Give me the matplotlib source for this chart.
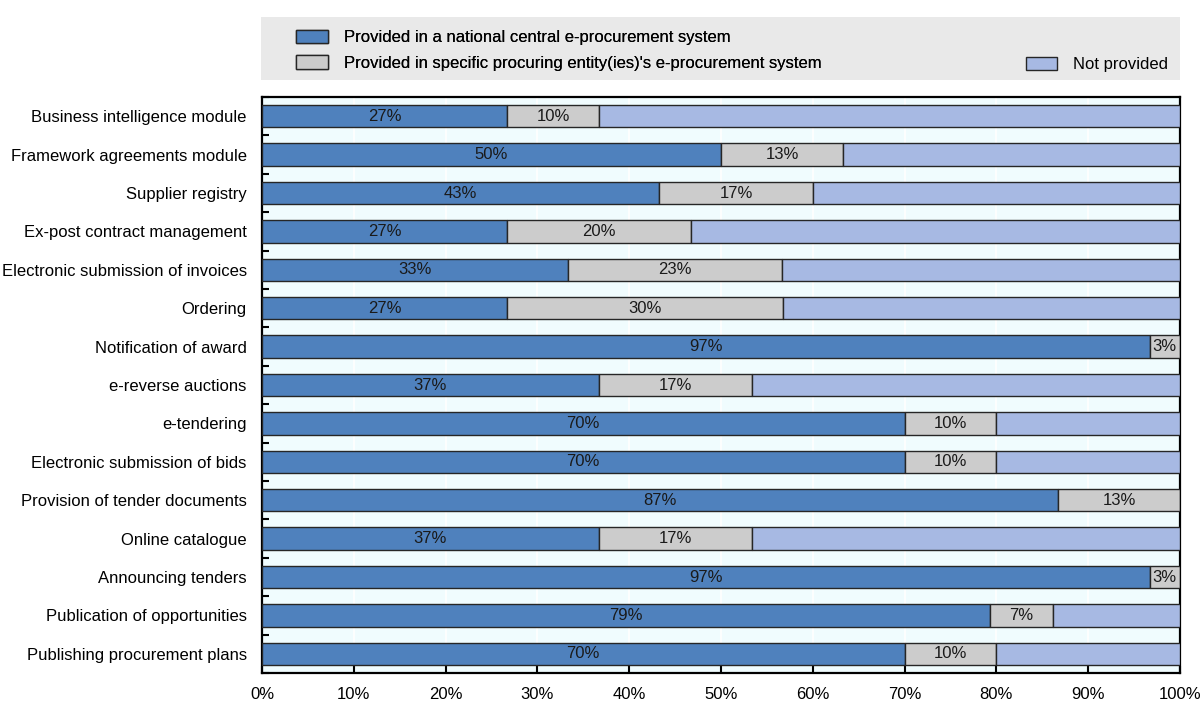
import matplotlib
matplotlib.use("Agg")
import matplotlib.pyplot as plt
from matplotlib import font_manager
from matplotlib.patches import Patch, Rectangle
import numpy as np

# Condensed sans-serif if available
_names = {f.name for f in font_manager.fontManager.ttflist}
FONT = "Liberation Sans Narrow" if "Liberation Sans Narrow" in _names else "Liberation Sans"
plt.rcParams["font.family"] = [FONT, "DejaVu Sans"]
plt.rcParams["font.size"] = 12

categories = [
    "Business intelligence module",
    "Framework agreements module",
    "Supplier registry",
    "Ex-post contract management",
    "Electronic submission of invoices",
    "Ordering",
    "Notification of award",
    "e-reverse auctions",
    "e-tendering",
    "Electronic submission of bids",
    "Provision of tender documents",
    "Online catalogue",
    "Announcing tenders",
    "Publication of opportunities",
    "Publishing procurement plans",
]

# Share of countries (%)
national = [26.7, 50.0, 43.3, 26.7, 33.3, 26.7, 96.7, 36.7, 70.0, 70.0, 86.7, 36.7, 96.7, 79.3, 70.0]
entity = [10.0, 13.3, 16.7, 20.0, 23.3, 30.0, 3.3, 16.7, 10.0, 10.0, 13.3, 16.7, 3.3, 6.9, 10.0]
not_provided = [100 - a - b for a, b in zip(national, entity)]

series_names = [
    "Provided in a national central e-procurement system",
    "Provided in specific procuring entity(ies)'s e-procurement system",
    "Not provided",
]
colors = ["#4f81bd", "#cccccc", "#a7b9e3"]
edge = "#262626"

fig = plt.figure(figsize=(12.03, 7.07), dpi=100)
W, H = 1203, 707
ax = fig.add_axes([262 / W, 1 - 673 / H, (1180 - 262) / W, (673 - 97) / H])
ax.set_facecolor("#f0fcfe")

y = np.arange(len(categories))
bh = 0.58
left = np.zeros(len(categories))
for vals, col, name, show in zip([national, entity, not_provided], colors, series_names, [True, True, False]):
    vals = np.asarray(vals)
    bars = ax.barh(y, vals, left=left, height=bh, color=col, edgecolor=edge,
                   linewidth=1.0, label=name, zorder=3)
    if show:
        for b, v in zip(bars, vals):
            if v > 0:
                ax.text(b.get_x() + b.get_width() / 2, b.get_y() + b.get_height() / 2,
                        f"{v:.0f}%", ha="center", va="center", fontsize=12,
                        color="#1a1a1a", zorder=4)
    left = left + vals

ax.set_xlim(0, 100)
ax.set_ylim(len(categories) - 0.5, -0.5)
ax.set_xticks(np.arange(0, 101, 10))
ax.set_xticklabels([f"{t}%" for t in range(0, 101, 10)])
ax.set_yticks(y)
ax.set_yticklabels(categories)
ax.set_yticks(np.arange(-0.5, len(categories)), minor=True)
ax.tick_params(axis="y", which="major", length=0, pad=11)
ax.tick_params(axis="y", which="minor", direction="in", length=5, width=1.5, color="black")
ax.tick_params(axis="x", which="major", direction="in", length=5, width=1.5, pad=10, labelsize=12)
ax.tick_params(axis="y", labelsize=12)
ax.xaxis.grid(True, color="white", linewidth=1.2, zorder=0)
ax.set_axisbelow(True)
for s in ax.spines.values():
    s.set_linewidth(1.6)
    s.set_color("black")

# Legend panel
fig.patches.append(Rectangle((261 / W, 1 - 80 / H), (1180 - 261) / W, 63 / H,
                             transform=fig.transFigure, facecolor="#e9e9e9",
                             edgecolor="none", zorder=0))
handles = [Patch(facecolor=c, edgecolor=edge, linewidth=1.0) for c in colors]
leg_kw = dict(frameon=False, fontsize=12, handlelength=1.9, handleheight=0.85,
              handletextpad=0.95, borderaxespad=0, borderpad=0)
leg1 = fig.legend(handles[:2], series_names[:2], loc="upper left",
                  bbox_to_anchor=(296 / W, 1 - 30 / H), labelspacing=0.6, **leg_kw)
leg2 = fig.legend(handles[2:], series_names[2:], loc="upper right",
                  bbox_to_anchor=(1168 / W, 1 - 57 / H), **leg_kw)
fig.add_artist(leg1)

fig.savefig("out.png", dpi=100)
